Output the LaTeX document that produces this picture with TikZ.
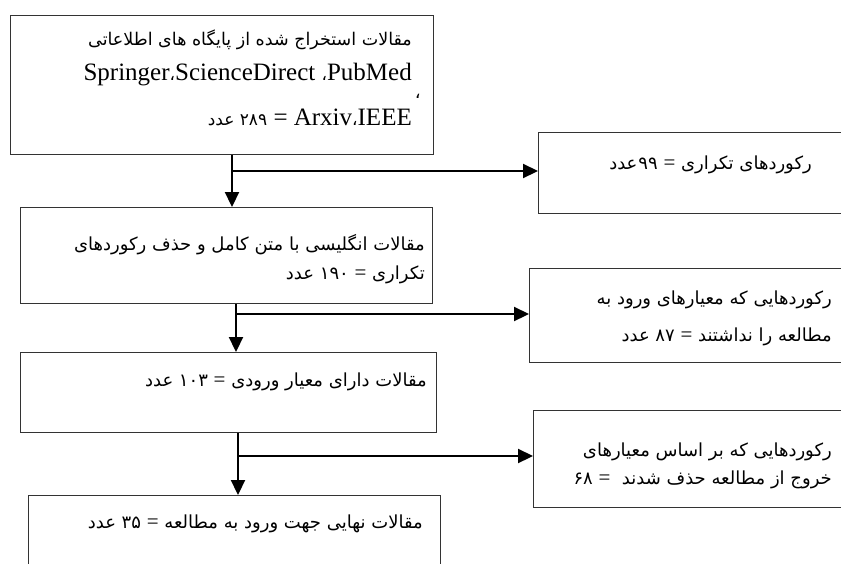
\documentclass[tikz,border=0pt]{standalone}
\usepackage{fontspec}
\setmainfont{Liberation Serif}
\newfontfamily\fafont[Script=Arabic]{DejaVu Sans}
\TeXXeTstate=1
\usetikzlibrary{arrows.meta}
\newcommand\fatext[1]{{\fafont\beginR #1\endR}}
\newcommand\eqsign{{\normalfont\fontsize{21}{21}\selectfont=}}
\tikzset{
  boxnode/.style={draw=black!80, line width=1.2pt, rectangle, inner sep=0pt, anchor=north west},
  txt/.style={anchor=east, inner sep=0pt, font=\fontsize{18}{21}\selectfont},
  txtbig/.style={anchor=east, inner sep=0pt, font=\fontsize{25}{28}\selectfont},
  conn/.style={line width=2.2pt, -{Triangle[length=15pt,width=14pt]}},
  stem/.style={line width=2.2pt}
}
\begin{document}
\begin{tikzpicture}[x=1pt,y=-1pt]
\useasboundingbox (0,0) rectangle (841,563);
\clip (0,0) rectangle (841,563);
\fill[white] (0,0) rectangle (841,563);

% boxes
\node[boxnode, minimum width=423pt, minimum height=139pt] (b1) at (10,15) {};
\node[boxnode, minimum width=330pt, minimum height=81pt] (b99) at (538,132) {};
\node[boxnode, minimum width=412pt, minimum height=96pt] (b2) at (20,207) {};
\node[boxnode, minimum width=340pt, minimum height=94pt] (b87) at (529,268) {};
\node[boxnode, minimum width=416pt, minimum height=80pt] (b3) at (20,352) {};
\node[boxnode, minimum width=340pt, minimum height=97pt] (b68) at (533,410) {};
\node[boxnode, minimum width=412pt, minimum height=100pt] (b4) at (28,495) {};

% texts
\node[txt, font=\fontsize{17.5}{20}\selectfont] (t1a) at (412,40) {\fatext{مقالات استخراج شده از پایگاه های اطلاعاتی}};
\node[txtbig] (t1b) at (412,75) {Springer{\fafont\fontsize{17}{20}\selectfont ،}ScienceDirect {\fafont\fontsize{17}{20}\selectfont ،}PubMed};
\node[txt] (t1c) at (421,96) {\fatext{،}};
\node[txtbig] (t1d) at (412,117) {{\fafont\fontsize{17}{20}\selectfont\beginR ۲۸۹ عدد\endR} = Arxiv{\fafont\fontsize{17}{20}\selectfont ،}IEEE};

\node[txt] (t99) at (812,165) {\fatext{رکوردهای تکراری \eqsign{} ۹۹\kern1pt عدد}};

\node[txt] (t2a) at (425,245) {\fatext{مقالات انگلیسی با متن کامل و حذف رکوردهای}};
\node[txt] (t2b) at (425,275) {\fatext{تکراری \eqsign{} ۱۹۰ عدد}};

\node[txt] (t87a) at (832,300) {\fatext{رکوردهایی که معیارهای ورود به}};
\node[txt] (t87b) at (832,337) {\fatext{مطالعه را نداشتند \eqsign{} ۸۷ عدد}};

\node[txt] (t3) at (427,382) {\fatext{مقالات دارای معیار ورودی \eqsign{} ۱۰۳ عدد}};

\node[txt] (t68a) at (832,452) {\fatext{رکوردهایی که بر اساس معیارهای}};
\node[txt] (t68b) at (832,480) {\fatext{خروج از مطالعه حذف شدند \ \eqsign{} ۶۸}};

\node[txt] (t4) at (423,524) {\fatext{مقالات نهایی جهت ورود به مطالعه \eqsign{} ۳۵ عدد}};

% junctions
\coordinate (j1) at (232,171);
\coordinate (j2) at (236,314);
\coordinate (j3) at (238,456);

% connectors
\draw[conn] (b1.south -| j1) -- (b2.north -| j1);
\draw[conn] (j1) -- (j1 -| b99.west);
\draw[conn] (b2.south -| j2) -- (b3.north -| j2);
\draw[conn] (j2) -- (j2 -| b87.west);
\draw[conn] (b3.south -| j3) -- (b4.north -| j3);
\draw[conn] (j3) -- (j3 -| b68.west);
\end{tikzpicture}
\end{document}
